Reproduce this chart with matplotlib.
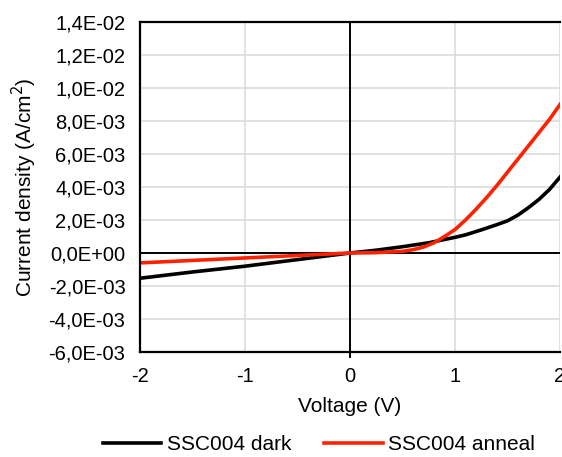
import matplotlib
matplotlib.use("Agg")
import matplotlib.pyplot as plt
from matplotlib.ticker import FuncFormatter, MultipleLocator

plt.rcParams.update({
    "font.family": ["Liberation Sans", "DejaVu Sans"],
    "font.size": 15,
})

# J-V data (current density in A/cm2)
v_dark = [-2.0, -1.5, -1.0, -0.5, 0.0, 0.25, 0.5, 0.75, 1.0, 1.1, 1.25, 1.4,
          1.5, 1.6, 1.7, 1.8, 1.9, 2.0]
j_dark = [-1.53e-3, -1.15e-3, -0.80e-3, -0.40e-3, 0.0, 0.17e-3, 0.38e-3, 0.62e-3,
          0.95e-3, 1.1e-3, 1.4e-3, 1.72e-3, 1.95e-3, 2.3e-3, 2.75e-3, 3.25e-3,
          3.85e-3, 4.6e-3]

v_anneal = [-2.0, -1.5, -1.0, -0.5, 0.0, 0.25, 0.5, 0.6, 0.7, 0.8, 0.9, 1.0,
            1.1, 1.2, 1.3, 1.4, 1.5, 1.6, 1.7, 1.8, 1.9, 2.0]
j_anneal = [-0.6e-3, -0.45e-3, -0.3e-3, -0.15e-3, 0.0, 0.02e-3, 0.1e-3, 0.2e-3,
            0.36e-3, 0.62e-3, 1.0e-3, 1.42e-3, 2.0e-3, 2.65e-3, 3.35e-3, 4.1e-3,
            4.9e-3, 5.7e-3, 6.5e-3, 7.3e-3, 8.1e-3, 9.0e-3]

labels = ["SSC004 dark", "SSC004 anneal"]
colors = ["black", "#ff2200"]

fig = plt.figure(figsize=(5.62, 4.57), dpi=100)
ax = fig.add_axes([140 / 562, 105 / 457, 420 / 562, 330 / 457])

ax.plot(v_dark, j_dark, color=colors[0], lw=2.6, label=labels[0])
ax.plot(v_anneal, j_anneal, color=colors[1], lw=2.6, label=labels[1])

ax.set_xlim(-2, 2)
ax.set_ylim(-6e-3, 14e-3)
ax.xaxis.set_major_locator(MultipleLocator(1))
ax.yaxis.set_major_locator(MultipleLocator(2e-3))
ax.yaxis.set_major_formatter(FuncFormatter(lambda v, p: f"{v:.1E}".replace(".", ",")))
ax.xaxis.set_major_formatter(FuncFormatter(lambda v, p: f"{v:g}"))
ax.tick_params(length=0, pad=10.5, labelsize=14.5)

ax.grid(True, color="#d9d9d9", lw=1.1)
ax.set_axisbelow(True)
ax.axhline(0, color="black", lw=1.4, zorder=1.5)
ax.axvline(0, ymin=-0.015, ymax=1, color="black", lw=1.4, zorder=1.5, clip_on=False)

for s in ["left", "top", "bottom"]:
    ax.spines[s].set_linewidth(1.6)
ax.spines["right"].set_visible(False)

ax.set_xlabel("Voltage (V)")
ax.xaxis.set_label_coords(0.5, -0.136)
ax.set_ylabel("Current density (A/cm$^2$)")
ax.yaxis.set_label_coords(-0.24, 0.5)

fig.legend(loc="center", bbox_to_anchor=(319 / 562, 1 - 445 / 457), ncol=2,
           frameon=False, handlelength=2.8, columnspacing=1.6, handletextpad=0.25)

fig.savefig("out.png", dpi=100)
